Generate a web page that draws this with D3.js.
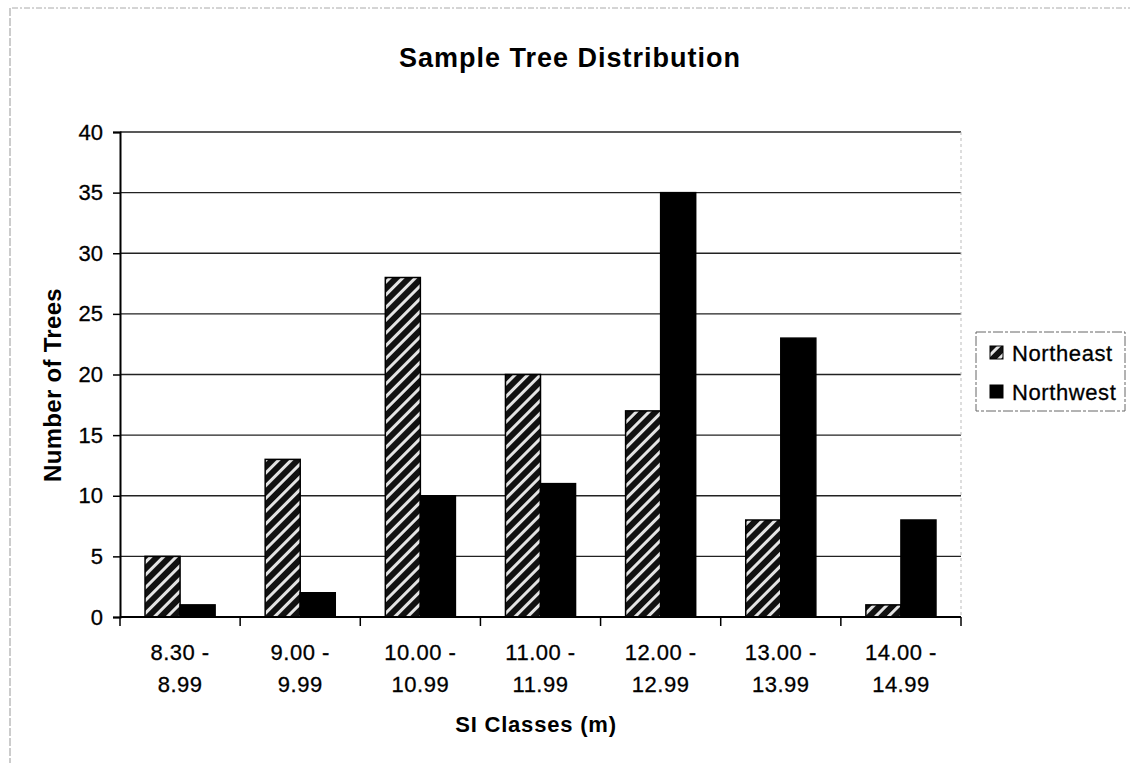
<!DOCTYPE html>
<html>
<head>
<meta charset="utf-8">
<script src="https://cdn.jsdelivr.net/npm/d3@7"></script>
<style>
  html, body { margin: 0; padding: 0; background: #fff; }
  svg { display: block; font-family: "Liberation Sans", Arial, sans-serif; }
</style>
</head>
<body>
<svg id="chart" width="1130" height="763"></svg>
<script>
// ---- data ----
const categoriesTop = ["8.30 -", "9.00 -", "10.00 -", "11.00 -", "12.00 -", "13.00 -", "14.00 -"];
const categoriesBottom = ["8.99", "9.99", "10.99", "11.99", "12.99", "13.99", "14.99"];
const seriesNames = ["Northeast", "Northwest"];
const northeast = [5, 13, 28, 20, 17, 8, 1];
const northwest = [1, 2, 10, 11, 35, 23, 8];
const yTicks = [0, 5, 10, 15, 20, 25, 30, 35, 40];
const chartTitle = "Sample Tree Distribution";
const xTitle = "SI Classes (m)";
const yTitle = "Number of Trees";

const svg = d3.select("#chart");
const plot = { left: 120, right: 961, top: 132, bottom: 617 };

// pattern for Northeast hatch
const defs = svg.append("defs");
const pat = defs.append("pattern")
  .attr("id", "hatch")
  .attr("patternUnits", "userSpaceOnUse")
  .attr("width", 9).attr("height", 9)
  .attr("patternTransform", "rotate(45)");
pat.append("rect").attr("width", 9).attr("height", 9).attr("fill", "#111");
pat.append("rect").attr("x", 0).attr("y", 0).attr("width", 3).attr("height", 9).attr("fill", "#e4e4e4");

// outer faint border
svg.append("line").attr("x1", 12).attr("x2", 1130).attr("y1", 8).attr("y2", 8)
  .attr("stroke", "#aaa").attr("stroke-width", 1).attr("stroke-dasharray", "6,2,2,2");
svg.append("line").attr("x1", 10).attr("x2", 10).attr("y1", 8).attr("y2", 763)
  .attr("stroke", "#999").attr("stroke-width", 1).attr("stroke-dasharray", "8,2");

const x = d3.scaleBand().domain(categoriesTop).range([plot.left, plot.right]).paddingInner(0).paddingOuter(0);
const xs = d3.scaleBand().domain(seriesNames).range([0, x.bandwidth()]).paddingInner(0).paddingOuter(0.714);
const y = d3.scaleLinear().domain([0, 40]).range([plot.bottom, plot.top]);

// gridlines
svg.append("g").selectAll("line").data(yTicks.filter(d => d > 0)).join("line")
  .attr("x1", plot.left).attr("x2", plot.right)
  .attr("y1", d => y(d)).attr("y2", d => y(d))
  .attr("stroke", "#222").attr("stroke-width", 1.4);

// faint right border of plot
svg.append("line").attr("x1", plot.right).attr("x2", plot.right)
  .attr("y1", plot.top).attr("y2", plot.bottom)
  .attr("stroke", "#bbb").attr("stroke-width", 1).attr("stroke-dasharray", "3,3");

// bars
const data = categoriesTop.map((c, i) => ({ c, vals: [
  { s: "Northeast", v: northeast[i] },
  { s: "Northwest", v: northwest[i] }
]}));
const groups = svg.append("g").selectAll("g").data(data).join("g")
  .attr("transform", d => `translate(${x(d.c)},0)`);
groups.selectAll("rect").data(d => d.vals).join("rect")
  .attr("x", d => xs(d.s))
  .attr("width", xs.bandwidth())
  .attr("y", d => y(d.v))
  .attr("height", d => y(0) - y(d.v))
  .attr("fill", d => d.s === "Northeast" ? "url(#hatch)" : "#000")
  .attr("stroke", "#000").attr("stroke-width", 1.5);

// y axis
const yAxis = d3.axisLeft(y).tickValues(yTicks).tickSize(7).tickPadding(10).tickFormat(d3.format("d"));
const yg = svg.append("g").attr("transform", `translate(${plot.left},0)`).call(yAxis);
yg.select(".domain").attr("stroke", "#000").attr("stroke-width", 2);
yg.selectAll(".tick line").attr("stroke", "#000").attr("stroke-width", 1.5);
yg.selectAll(".tick text").attr("font-size", 22).attr("fill", "#000")
  .attr("stroke", "#000").attr("stroke-width", 0.3)
  .attr("font-family", "'Liberation Sans', Arial, sans-serif");

// x axis
svg.append("line").attr("x1", plot.left).attr("x2", plot.right)
  .attr("y1", plot.bottom).attr("y2", plot.bottom)
  .attr("stroke", "#000").attr("stroke-width", 2);
const bounds = categoriesTop.map(c => x(c)).concat([plot.right]);
svg.append("g").selectAll("line").data(bounds).join("line")
  .attr("x1", d => d).attr("x2", d => d)
  .attr("y1", plot.bottom).attr("y2", plot.bottom + 9)
  .attr("stroke", "#000").attr("stroke-width", 1.5);
svg.append("g").selectAll("text").data(categoriesTop).join("text")
  .attr("x", d => x(d) + x.bandwidth() / 2)
  .attr("y", 660)
  .attr("text-anchor", "middle")
  .attr("font-size", 22)
  .attr("letter-spacing", 0.5)
  .attr("stroke", "#000").attr("stroke-width", 0.3)
  .text(d => d);
svg.append("g").selectAll("text").data(categoriesBottom).join("text")
  .attr("x", (d, i) => x(categoriesTop[i]) + x.bandwidth() / 2)
  .attr("y", 692)
  .attr("text-anchor", "middle")
  .attr("font-size", 22)
  .attr("letter-spacing", 0.5)
  .attr("stroke", "#000").attr("stroke-width", 0.3)
  .text(d => d);

// titles
svg.append("text").attr("x", 570).attr("y", 67).attr("text-anchor", "middle")
  .attr("font-size", 27).attr("font-weight", "bold").attr("letter-spacing", 1)
  .text(chartTitle);
svg.append("text").attr("x", 536).attr("y", 732).attr("text-anchor", "middle")
  .attr("font-size", 22).attr("font-weight", "bold").attr("letter-spacing", 0.8)
  .text(xTitle);
svg.append("text").attr("transform", "translate(61,385) rotate(-90)").attr("text-anchor", "middle")
  .attr("font-size", 24).attr("font-weight", "bold").attr("letter-spacing", 0.3)
  .text(yTitle);

// legend
const lg = svg.append("g");
lg.append("rect").attr("x", 976).attr("y", 332).attr("width", 149).attr("height", 79)
  .attr("fill", "#fff").attr("stroke", "#666").attr("stroke-width", 1).attr("stroke-dasharray", "10,2,3,2");
const li = lg.selectAll("g").data(seriesNames).join("g")
  .attr("transform", (d, i) => `translate(990,${353 + i * 39})`);
li.append("rect").attr("x", 0).attr("y", -7).attr("width", 13).attr("height", 13)
  .attr("fill", d => d === "Northeast" ? "url(#hatch)" : "#000")
  .attr("stroke", "#000").attr("stroke-width", 1);
li.append("text").attr("x", 22).attr("y", 8).attr("font-size", 22).attr("letter-spacing", 0.6)
  .attr("stroke", "#000").attr("stroke-width", 0.3)
  .text(d => d);
</script>
</body>
</html>
